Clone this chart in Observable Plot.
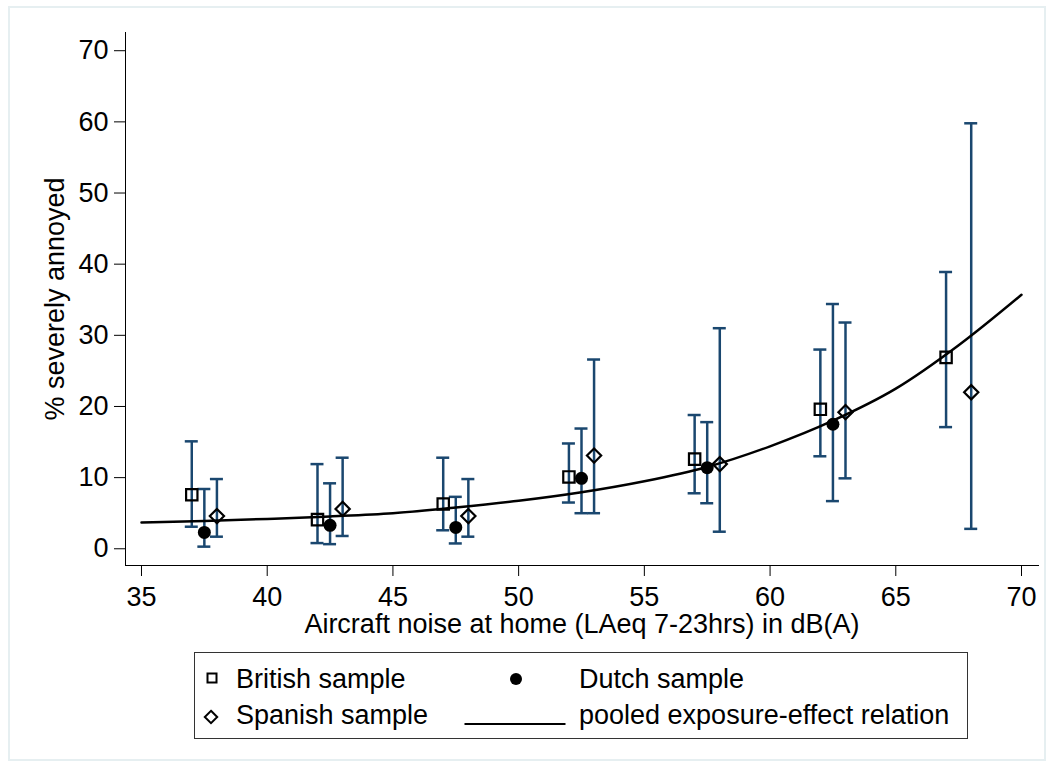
<!DOCTYPE html>
<html>
<head>
<meta charset="utf-8">
<script src="https://cdn.jsdelivr.net/npm/d3@7"></script>
<script src="https://cdn.jsdelivr.net/npm/@observablehq/plot@0.6"></script>
<style>
  html, body { margin: 0; padding: 0; background: #fff; }
  #wrap { position: relative; width: 1052px; height: 767px; overflow: hidden;
          font-family: "Liberation Sans", Arial, sans-serif; color: #000; }
  #frame { position: absolute; left: 8px; top: 6px; width: 1038px; height: 755px;
           border: 2px solid #e6eff1; box-sizing: border-box; }
  #chart { position: absolute; left: 0; top: 0; }
  #legend { position: absolute; left: 194px; top: 652px; width: 774px; height: 87px;
            border: 1.5px solid #333; box-sizing: border-box; }
  .lt { position: absolute; font-size: 27px; line-height: 27px; white-space: nowrap; }
  .ls { position: absolute; }
</style>
</head>
<body>
<div id="wrap">
  <div id="frame"></div>
  <div id="chart"></div>
  <div id="legend"></div>
</div>
<script>
// ---- data ----
const xTicks = [35, 40, 45, 50, 55, 60, 65, 70];
const yTicks = [0, 10, 20, 30, 40, 50, 60, 70];

const britishX  = [37, 42, 47, 52, 57, 62, 67];
const britishY  = [7.6, 4.1, 6.3, 10.1, 12.6, 19.6, 26.9];
const britishLo = [3.1, 0.8, 2.6, 6.5, 7.8, 13.0, 17.1];
const britishHi = [15.1, 11.9, 12.8, 14.8, 18.8, 28.0, 38.9];

const dutchX  = [37.5, 42.5, 47.5, 52.5, 57.5, 62.5];
const dutchY  = [2.3, 3.3, 3.0, 9.9, 11.4, 17.5];
const dutchLo = [0.3, 0.65, 0.75, 5.0, 6.4, 6.7];
const dutchHi = [8.4, 9.2, 7.3, 16.9, 17.8, 34.4];

const spanishX  = [38, 43, 48, 53, 58, 63, 68];
const spanishY  = [4.6, 5.6, 4.6, 13.1, 11.9, 19.2, 22.0];
const spanishLo = [1.7, 1.8, 1.7, 5.0, 2.4, 9.9, 2.8];
const spanishHi = [9.8, 12.8, 9.8, 26.6, 31.0, 31.8, 59.8];

const curveX = [35, 37.5, 40, 42.5, 45, 47.5, 50, 52.5, 55, 57.5, 60, 62.5, 65, 67.5, 70];
const curveY = [3.7, 3.9, 4.2, 4.55, 5.0, 5.8, 6.75, 7.95, 9.5, 11.5, 14.4, 18.0, 22.5, 28.6, 35.7];

const xLabel = "Aircraft noise at home (LAeq 7-23hrs) in dB(A)";
const yLabel = "% severely annoyed";
const legendItems = ["British sample", "Dutch sample", "Spanish sample", "pooled exposure-effect relation"];

// ---- tables ----
const mk = (xs, ys, lo, hi, s) => xs.map((x, i) => ({x, y: ys[i], lo: lo[i], hi: hi[i], s}));
const british = mk(britishX, britishY, britishLo, britishHi, "British");
const dutch = mk(dutchX, dutchY, dutchLo, dutchHi, "Dutch");
const spanish = mk(spanishX, spanishY, spanishLo, spanishHi, "Spanish");
const all = [...british, ...dutch, ...spanish];
const curve = curveX.map((x, i) => ({x, y: curveY[i]}));

const navy = "#1a476f";
const capOpts = {stroke: navy, strokeWidth: 2.5, insetLeft: -6.5, insetRight: -6.5};

const chart = Plot.plot({
  width: 1052,
  height: 640,
  marginLeft: 125,
  marginRight: 14,
  marginTop: 32,
  marginBottom: 75,
  style: {fontFamily: "Liberation Sans, Arial, sans-serif", fontSize: "27px", background: "transparent", color: "#000", overflow: "visible"},
  x: {domain: [34.364, 70.676], ticks: xTicks, tickSize: 11, tickPadding: 10, line: true, label: null},
  y: {domain: [-2.35, 72.56], ticks: yTicks, tickSize: 11, tickPadding: 6, line: true, label: null},
  marks: [
    Plot.ruleX(all, {x: "x", y1: "lo", y2: "hi", stroke: navy, strokeWidth: 2.5}),
    Plot.ruleY(all, {x1: "x", x2: "x", y: "lo", ...capOpts}),
    Plot.ruleY(all, {x1: "x", x2: "x", y: "hi", ...capOpts}),
    Plot.line(curve, {x: "x", y: "y", stroke: "#000", strokeWidth: 2.5, curve: "monotone-x"}),
    Plot.dot(british, {x: "x", y: "y", symbol: "square", r: 6.4, stroke: "#000", strokeWidth: 2.2, fill: "none"}),
    Plot.dot(dutch, {x: "x", y: "y", symbol: "circle", r: 6.5, fill: "#000", stroke: "none"}),
    Plot.dot(spanish, {x: "x", y: "y", symbol: "diamond2", r: 6.4, stroke: "#000", strokeWidth: 2.2, fill: "none"}),
    Plot.text([yLabel], {text: d => d, frameAnchor: "left", dx: -70, rotate: -90, lineAnchor: "middle", textAnchor: "middle", fontSize: 27, fill: "#000"}),
    Plot.text([xLabel], {text: d => d, frameAnchor: "bottom", dy: 67, lineAnchor: "bottom", textAnchor: "middle", fontSize: 27, fill: "#000"})
  ]
});
document.getElementById("chart").appendChild(chart);

// ---- legend ----
const lg = document.getElementById("legend");
const L = 194, T = 652; // legend box origin for converting page positions
function addText(str, px, py) {
  const s = document.createElement("span");
  s.className = "lt"; s.textContent = str;
  s.style.left = (px - L) + "px"; s.style.top = (py - T - 23) + "px";
  lg.appendChild(s);
}
function addSym(svg, cx, cy, w, h) {
  const d = document.createElement("div");
  d.className = "ls";
  d.style.left = (cx - L - w / 2) + "px"; d.style.top = (cy - T - h / 2) + "px";
  d.innerHTML = `<svg width="${w}" height="${h}" viewBox="${-w/2} ${-h/2} ${w} ${h}">${svg}</svg>`;
  lg.appendChild(d);
}
addSym(`<rect x="-4.5" y="-4.5" width="9" height="9" fill="none" stroke="#000" stroke-width="2"/>`, 210.5, 677, 14, 14);
addText(legendItems[0], 235, 688);
addSym(`<circle r="6" fill="#000"/>`, 515, 678, 14, 14);
addText(legendItems[1], 578, 688);
addSym(`<path d="M0,-6.2L6.2,0L0,6.2L-6.2,0Z" fill="none" stroke="#000" stroke-width="2"/>`, 210, 716, 18, 18);
addText(legendItems[2], 235, 724);
addSym(`<line x1="-50.5" x2="50.5" y1="0" y2="0" stroke="#000" stroke-width="2"/>`, 513.5, 715, 104, 6);
addText(legendItems[3], 578, 724);
</script>
</body>
</html>
